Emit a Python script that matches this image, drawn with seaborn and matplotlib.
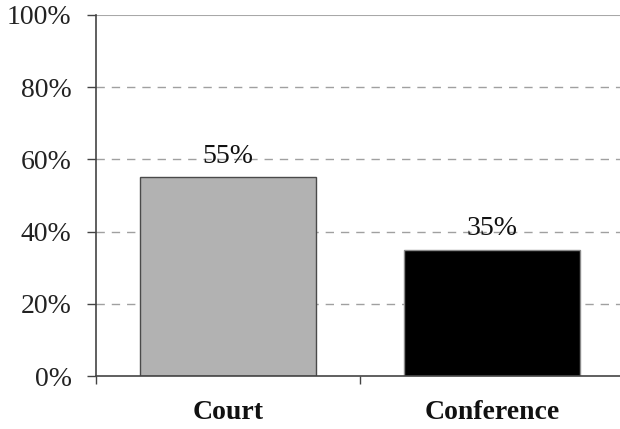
import matplotlib
matplotlib.use("Agg")
import matplotlib.pyplot as plt
import seaborn as sns
import pandas as pd
from matplotlib.ticker import FixedLocator

categories = ["Court", "Conference"]
shares = [55, 35]
bar_colors = ["#b2b2b2", "#000000"]
edge_colors = ["#4a4a4a", "#8a8a8a"]
y_ticks = [0, 20, 40, 60, 80, 100]
y_tick_labels = ["0%", "20%", "40%", "60%", "80%", "100%"]

df = pd.DataFrame({"venue": categories, "share": shares})

sns.set_style("white")
plt.rcParams["font.family"] = ["Liberation Serif", "DejaVu Serif"]

fig = plt.figure(figsize=(6.2, 4.29), dpi=100)
ax = fig.add_axes([96 / 620, 53 / 429, 524 / 620, 361 / 429])

# dashed reference lines behind the bars
for y in y_ticks[1:-1]:
    ax.axhline(y, color="#a0a0a0", lw=1.0, ls=(0, (6, 5)), zorder=0)
ax.axhline(100, color="#a8a8a8", lw=1.5, zorder=0)

sns.barplot(data=df, x="venue", y="share", hue="venue", order=categories,
            hue_order=categories, palette=bar_colors, width=0.67,
            legend=False, ax=ax, zorder=2)

for patch, ec in zip(ax.patches, edge_colors):
    patch.set_edgecolor(ec)
    patch.set_linewidth(1.0)

for i, v in enumerate(shares):
    ax.annotate(f"{v}%", xy=(i, v), xytext=(0, 15), textcoords="offset points",
                ha="center", va="center", fontsize=20, color="#111111")

ax.set_ylim(0, 100)
ax.set_xlim(-0.5, -0.5 + 524 / 264)
ax.set_yticks(y_ticks)
ax.set_yticklabels(y_tick_labels, fontsize=20, color="#222222")
ax.set_xticks(range(len(categories)))
ax.set_xticklabels(categories, fontsize=20, fontweight="bold", color="#111111")
ax.xaxis.set_minor_locator(FixedLocator([-0.5, 0.5, 1.5]))
ax.tick_params(axis="x", which="major", length=0, pad=17)
ax.tick_params(axis="x", which="minor", bottom=True, length=6, width=1.0,
               color="#444444", direction="out")
ax.tick_params(axis="y", which="major", left=True, length=6.5, width=1.0,
               color="#444444", direction="out", pad=11)
ax.set_xlabel("")
ax.set_ylabel("")

for side in ["top", "right"]:
    ax.spines[side].set_visible(False)
for side in ["left", "bottom"]:
    ax.spines[side].set_color("#444444")
    ax.spines[side].set_linewidth(1.2)

fig.savefig("out.png", dpi=100, facecolor="white")
